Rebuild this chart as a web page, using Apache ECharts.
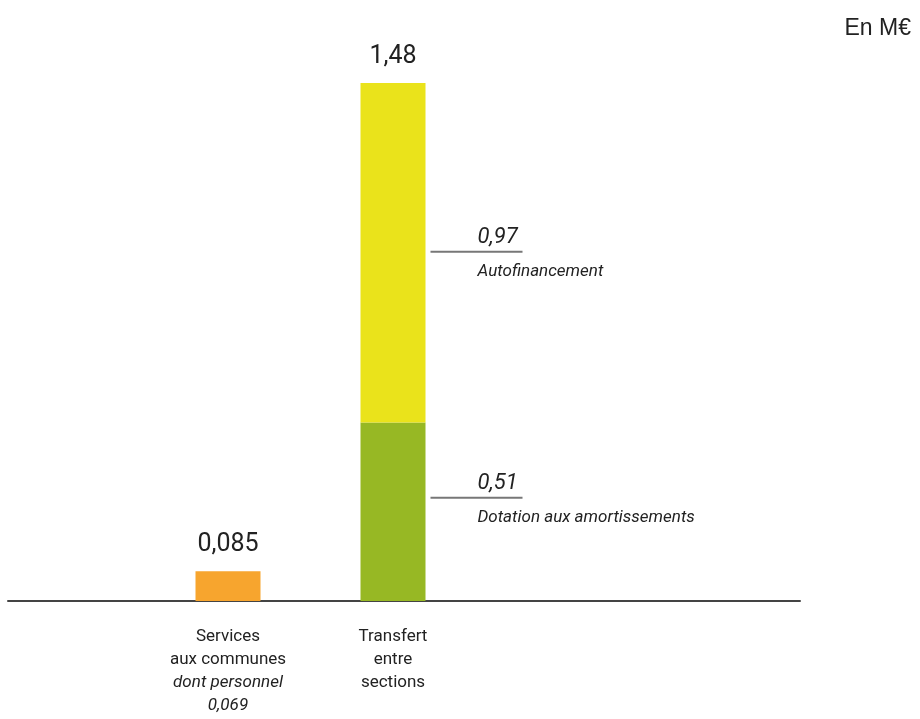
<!DOCTYPE html>
<html>
<head>
<meta charset="utf-8">
<script src="https://cdn.jsdelivr.net/npm/echarts@6/dist/echarts.min.js"></script>
<style>
  html, body { margin: 0; padding: 0; background: #fff; }
  #chart { width: 920px; height: 719px; }
</style>
</head>
<body>
<div id="chart"></div>
<script>
// données (en M€)
const categories = ['Services\naux communes', 'Transfert\nentre\nsections'];
const personnelNote = ['dont personnel', '0,069'];
const services = [0.085, null];
const amortissements = [null, 0.51];
const autofinancement = [null, 0.97];
const segmentNames = ['Dotation aux amortissements', 'Autofinancement'];

const totals = categories.map((c, i) =>
  (services[i] || 0) + (amortissements[i] || 0) + (autofinancement[i] || 0));

const fmt = v => String(Math.round(v * 1000) / 1000).replace('.', ',');

const narrow = 'Roboto, sans-serif';
const dark = '#222';

// label à droite d'un segment : valeur / trait / libellé
const sideLabel = (name, offsetY) => ({
  show: true,
  position: 'right',
  distance: 5,
  offset: [0, offsetY],
  formatter: p => '{v|' + fmt(p.value) + '}\n{hr|}\n{t|' + name + '}',
  rich: {
    v: { fontFamily: narrow, fontStyle: 'italic', fontSize: 22, color: dark, lineHeight: 26, padding: [0, 0, 0, 47] },
    hr: { width: 92, height: 2, lineHeight: 2, backgroundColor: '#777' },
    t: { fontFamily: narrow, fontStyle: 'italic', fontSize: 17, color: dark, lineHeight: 38, padding: [0, 0, 0, 47] }
  }
});

const option = {
  animation: false,
  title: {
    text: 'En M€',
    right: 4,
    top: 12,
    textStyle: { fontFamily: '"Liberation Sans", Arial, sans-serif', fontSize: 23, fontWeight: 'normal', color: dark }
  },
  grid: [
    { left: 145.5, right: 444.5, top: 83, bottom: 118 },
    { left: 8, right: 120, top: 83, bottom: 118 }
  ],
  xAxis: [
    {
      type: 'category',
      gridIndex: 0,
      data: categories,
      axisLine: { show: false },
      axisTick: { show: false },
      axisLabel: {
        margin: 24,
        formatter: (v, i) => {
          let s = v.split('\n').map(l => '{n|' + l + '}').join('\n');
          if (i === 0) s += '\n' + personnelNote.map(l => '{i|' + l + '}').join('\n');
          return s;
        },
        rich: {
          n: { fontFamily: narrow, fontSize: 17, color: dark, lineHeight: 23 },
          i: { fontFamily: narrow, fontStyle: 'italic', fontSize: 17, color: dark, lineHeight: 23 }
        }
      }
    },
    {
      type: 'value',
      gridIndex: 1,
      min: 0,
      max: 1,
      axisLine: { show: true, lineStyle: { color: '#444', width: 2 } },
      axisTick: { show: false },
      axisLabel: { show: false },
      splitLine: { show: false }
    }
  ],
  yAxis: [
    { type: 'value', gridIndex: 0, min: 0, max: 1.48, show: false },
    { type: 'value', gridIndex: 1, min: 0, max: 1.48, show: false }
  ],
  series: [
    {
      name: 'Services',
      type: 'bar',
      stack: 'total',
      barWidth: 65,
      data: services,
      itemStyle: { color: '#F7A52E' }
    },
    {
      name: 'Dotation aux amortissements',
      type: 'bar',
      stack: 'total',
      barWidth: 65,
      data: amortissements,
      itemStyle: { color: '#97B824' },
      label: sideLabel(segmentNames[0], -8)
    },
    {
      name: 'Autofinancement',
      type: 'bar',
      stack: 'total',
      barWidth: 65,
      data: autofinancement,
      itemStyle: { color: '#EAE31B' },
      label: sideLabel(segmentNames[1], 5)
    },
    {
      name: 'Total',
      type: 'bar',
      stack: 'total',
      barWidth: 65,
      data: totals.map(() => 0),
      itemStyle: { color: 'transparent' },
      label: {
        show: true,
        position: 'top',
        distance: 14,
        fontFamily: 'Roboto',
        fontSize: 25,
        color: dark,
        formatter: p => fmt(totals[p.dataIndex])
      }
    },
    {
      type: 'line',
      xAxisIndex: 1,
      yAxisIndex: 1,
      data: [],
      silent: true
    }
  ]
};

const myChart = echarts.init(document.getElementById('chart'));
myChart.setOption(option);
</script>
</body>
</html>
